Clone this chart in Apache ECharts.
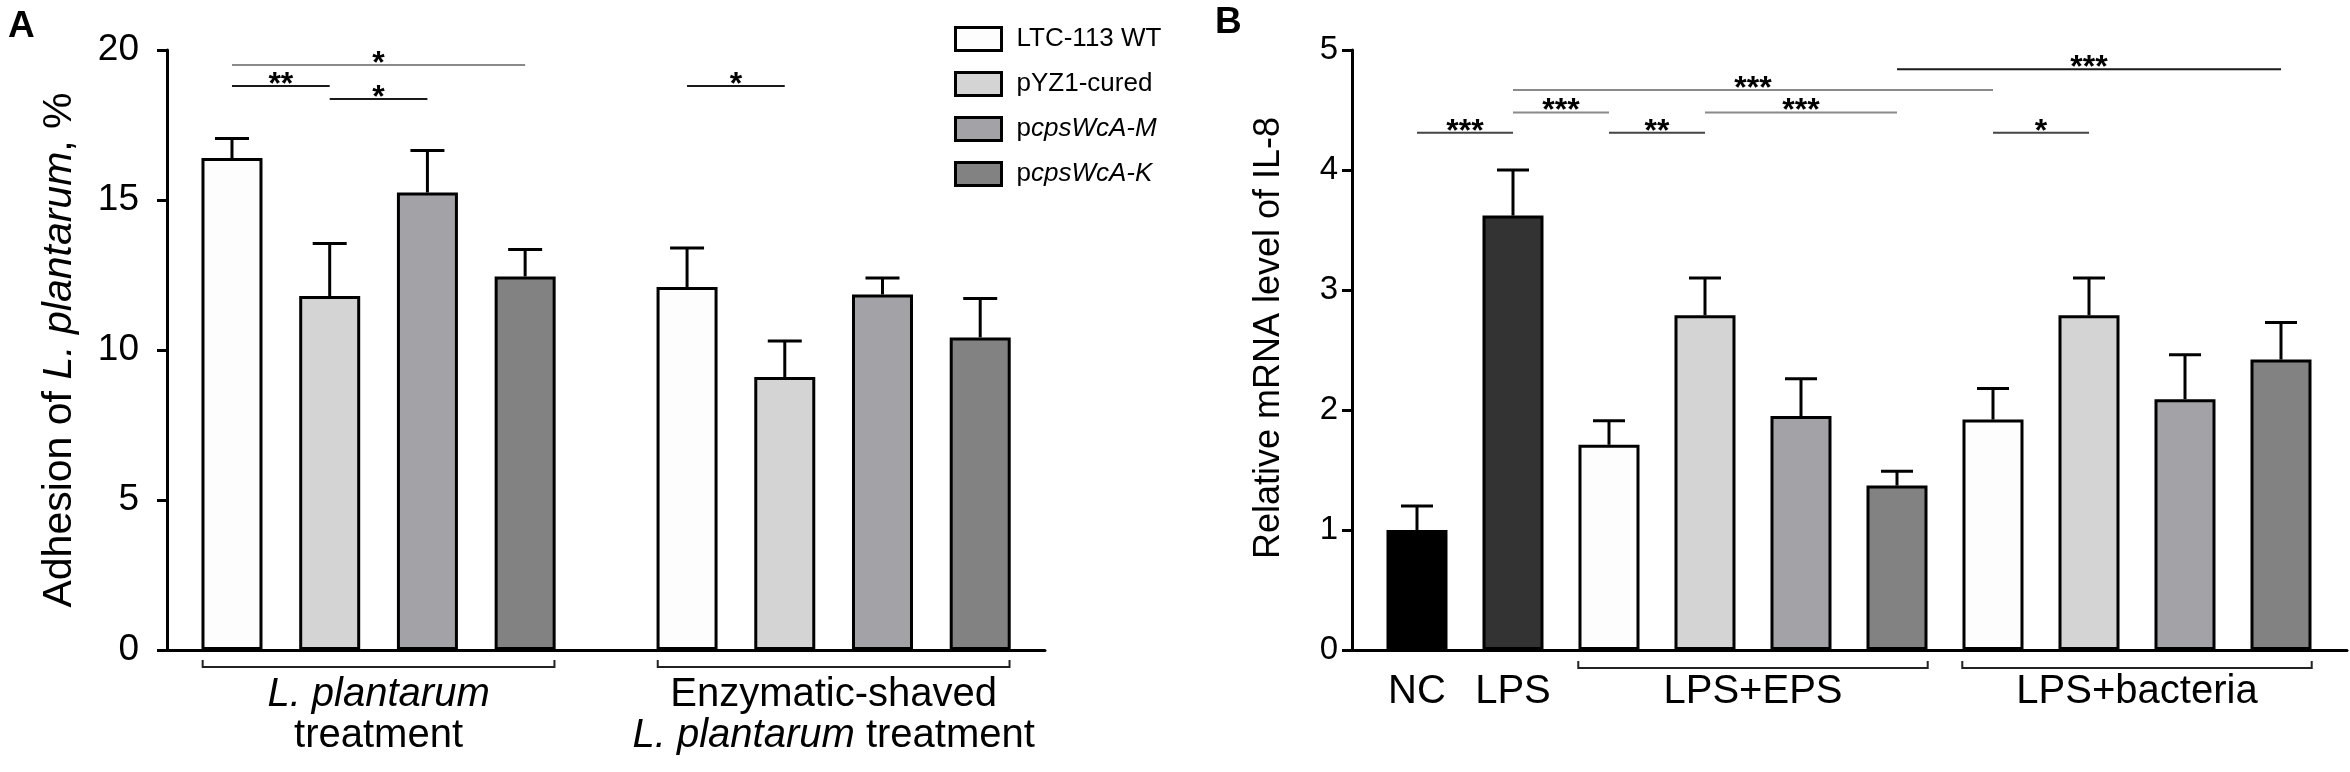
<!DOCTYPE html>
<html>
<head>
<meta charset="utf-8">
<title>Adhesion and IL-8</title>
<script src="https://cdn.jsdelivr.net/npm/echarts@6/dist/echarts.min.js"></script>
<style>
  html, body { margin: 0; padding: 0; background: #fff; }
  #chart { width: 2350px; height: 772px; }
</style>
</head>
<body>
<div id="chart"></div>
<script>
// ---- data ----
var strains = ['LTC-113 WT', 'pYZ1-cured', 'pcpsWcA-M', 'pcpsWcA-K'];

// panel A: adhesion %, [strain][group]
var adhesionGroups = ['{i|L. plantarum}\ntreatment', 'Enzymatic-shaved\n{i|L. plantarum} treatment'];
var adhesionMean = [[16.4, 12.1], [11.8, 9.1], [15.25, 11.85], [12.45, 10.42]];
var adhesionErr = [[0.65, 1.3], [1.75, 1.2], [1.4, 0.55], [0.9, 1.3]];
var adhesionTicks = [0, 20, 5]; // min, max, step
// significance: [bar from, bar to, level, stars], bars numbered group by group
var sigA = [[0, 3, 19.5, 1], [0, 1, 18.8, 2], [1, 2, 18.37, 1], [4, 5, 18.8, 1]];

// panel B: relative IL-8 mRNA
var il8Labels = ['NC', 'LPS', 'LPS+EPS', 'LPS+bacteria'];
var il8Control = [1.0, 3.62];          // NC, LPS
var il8ControlErr = [0.2, 0.38];
var il8Eps = [1.71, 2.79, 1.95, 1.37];  // per strain
var il8EpsErr = [0.2, 0.31, 0.31, 0.12];
var il8Bact = [1.92, 2.79, 2.09, 2.42];
var il8BactErr = [0.26, 0.31, 0.37, 0.31];
var il8Ticks = [0, 5, 1];
var sigB = [[0, 1, 4.31, 3], [1, 2, 4.48, 3], [2, 3, 4.31, 2], [1, 6, 4.667, 3],
            [3, 5, 4.48, 3], [5, 9, 4.84, 3], [6, 7, 4.31, 1]];

// ---- style ----
var FONT = '"Liberation Sans", Arial, Helvetica, sans-serif';
var strainColors = ['#fdfdfd', '#d4d4d4', '#a3a3a7', '#828282'];
var controlColors = ['#000000', '#333333'];
var sigColorsA = ['#8a8a8a', '#1a1a1a', '#1a1a1a', '#1a1a1a'];
var sigColorsB = ['#444', '#8a8a8a', '#444', '#8a8a8a', '#8a8a8a', '#1a1a1a', '#444'];
var GROUP_STEP_A = 4.657;   // distance between the two groups of panel A, in bar slots

function posA(g, s) { return g * GROUP_STEP_A + s; }
function posAByIndex(k) { return posA(Math.floor(k / 4), k % 4); }

function errorBar(capHalf) {
	return function (params, api) {
		var x = api.value(0), m = api.value(1), e = api.value(2);
		var top = api.coord([x, m]);
		var cap = api.coord([x, m + e]);
		var st = { stroke: '#000', lineWidth: 3 };
		return { type: 'group', children: [
			{ type: 'line', shape: { x1: top[0], y1: top[1], x2: cap[0], y2: cap[1] }, style: st },
			{ type: 'line', shape: { x1: cap[0] - capHalf, y1: cap[1], x2: cap[0] + capHalf, y2: cap[1] }, style: st }
		]};
	};
}

function sigRender(colors) {
	return function (params, api) {
		var a = api.coord([api.value(0), api.value(2)]);
		var b = api.coord([api.value(1), api.value(2)]);
		var stars = new Array(api.value(3) + 1).join('*');
		return { type: 'group', children: [
			{ type: 'line', shape: { x1: a[0], y1: a[1], x2: b[0], y2: b[1] },
			  style: { stroke: colors[params.dataIndex], lineWidth: 2 } },
			{ type: 'text', x: (a[0] + b[0]) / 2, y: a[1] - 1,
			  style: { text: stars, align: 'center', verticalAlign: 'middle', fill: '#000',
			           fontFamily: FONT, fontSize: 32, fontWeight: 'bold' } }
		]};
	};
}

function groupRender(labels, o) {
	return function (params, api) {
		var l = api.coord([api.value(0), 0]);
		var r = api.coord([api.value(1), 0]);
		var half = o.halfSpan * api.size([1, 0])[0];
		var x0 = l[0] - half, x1 = r[0] + half, y = l[1] + o.bracketDrop;
		var kids = [];
		if (api.value(1) > api.value(0)) {
			kids.push({ type: 'polyline', shape: { points: [[x0, y - 7], [x0, y], [x1, y], [x1, y - 7]] },
			            style: { stroke: '#222', lineWidth: 2, fill: 'none' } });
		}
		kids.push({ type: 'text', x: (l[0] + r[0]) / 2, y: l[1] + o.textDrop,
			style: { text: labels[params.dataIndex], align: 'center', verticalAlign: o.vAlign, fill: '#000',
			         fontFamily: FONT, fontSize: o.fontSize, lineHeight: o.lineHeight,
			         rich: { i: { fontStyle: 'italic', fontFamily: FONT, fontSize: o.fontSize, lineHeight: o.lineHeight } } } });
		return { type: 'group', children: kids };
	};
}

function valueAxis(grid, ticks, fontSize, margin, name, nameGap, nameSize, namePad) {
	return {
		type: 'value', gridIndex: grid, min: ticks[0], max: ticks[1], interval: ticks[2],
		axisLine: { show: true, onZero: false, lineStyle: { color: '#000', width: 3 } },
		axisTick: { show: true, length: 10, lineStyle: { color: '#000', width: 3 } },
		axisLabel: { color: '#000', fontFamily: FONT, fontSize: fontSize, margin: margin },
		splitLine: { show: false },
		name: name, nameLocation: 'middle', nameGap: nameGap,
		nameTextStyle: { color: '#000', fontFamily: FONT, fontSize: nameSize, padding: namePad,
		                 rich: { i: { fontStyle: 'italic', fontFamily: FONT, fontSize: nameSize } } }
	};
}

function slotAxis(grid, min, max) {
	return {
		type: 'value', gridIndex: grid, min: min, max: max,
		axisLine: { show: true, onZero: false, lineStyle: { color: '#000', width: 3 } },
		axisTick: { show: false }, axisLabel: { show: false }, splitLine: { show: false }
	};
}

var series = [];

// panel A bars + error bars
strains.forEach(function (name, s) {
	series.push({
		type: 'bar', name: name, xAxisIndex: 0, yAxisIndex: 0, barWidth: 61, barGap: '-100%',
		itemStyle: { color: strainColors[s], borderColor: '#000', borderWidth: 3 },
		data: adhesionMean[s].map(function (v, g) { return [posA(g, s), v]; })
	});
});
var errA = [];
strains.forEach(function (name, s) {
	adhesionMean[s].forEach(function (v, g) { errA.push([posA(g, s), v, adhesionErr[s][g]]); });
});
series.push({ type: 'custom', xAxisIndex: 0, yAxisIndex: 0, z: 5, clip: false, silent: true,
	renderItem: errorBar(17), encode: { x: 0, y: 1 }, data: errA });
series.push({ type: 'custom', xAxisIndex: 0, yAxisIndex: 0, z: 5, clip: false, silent: true,
	renderItem: sigRender(sigColorsA), encode: { x: [0, 1], y: 2 },
	data: sigA.map(function (d) { return [posAByIndex(d[0]), posAByIndex(d[1]), d[2], d[3]]; }) });
series.push({ type: 'custom', xAxisIndex: 0, yAxisIndex: 0, z: 5, clip: false, silent: true,
	renderItem: groupRender(adhesionGroups, { halfSpan: 0.3, bracketDrop: 17, textDrop: 24, vAlign: 'top', fontSize: 40, lineHeight: 41 }),
	encode: { x: [0, 1], y: 2 },
	data: adhesionGroups.map(function (t, g) { return [posA(g, 0), posA(g, 3), 0]; }) });

// panel B bars + error bars
['NC', 'LPS'].forEach(function (name, k) {
	series.push({
		type: 'bar', name: name, xAxisIndex: 1, yAxisIndex: 1, barWidth: 61, barGap: '-100%',
		itemStyle: { color: controlColors[k], borderColor: '#000', borderWidth: 3 },
		data: [[k, il8Control[k]]]
	});
});
strains.forEach(function (name, s) {
	series.push({
		type: 'bar', name: name, xAxisIndex: 1, yAxisIndex: 1, barWidth: 61, barGap: '-100%',
		itemStyle: { color: strainColors[s], borderColor: '#000', borderWidth: 3 },
		data: [[2 + s, il8Eps[s]], [6 + s, il8Bact[s]]]
	});
});
var errB = il8Control.map(function (v, k) { return [k, v, il8ControlErr[k]]; });
il8Eps.forEach(function (v, s) { errB.push([2 + s, v, il8EpsErr[s]]); });
il8Bact.forEach(function (v, s) { errB.push([6 + s, v, il8BactErr[s]]); });
series.push({ type: 'custom', xAxisIndex: 1, yAxisIndex: 1, z: 5, clip: false, silent: true,
	renderItem: errorBar(16), encode: { x: 0, y: 1 }, data: errB });
series.push({ type: 'custom', xAxisIndex: 1, yAxisIndex: 1, z: 5, clip: false, silent: true,
	renderItem: sigRender(sigColorsB), encode: { x: [0, 1], y: 2 }, data: sigB });
series.push({ type: 'custom', xAxisIndex: 1, yAxisIndex: 1, z: 5, clip: false, silent: true,
	renderItem: groupRender(il8Labels, { halfSpan: 0.32, bracketDrop: 18, textDrop: 42, vAlign: 'middle', fontSize: 40, lineHeight: 44 }),
	encode: { x: [0, 1], y: 2 },
	data: [[0, 0, 0], [1, 1, 0], [2, 5, 0], [6, 9, 0]] });

var option = {
	backgroundColor: '#fff',
	animation: false,
	grid: [
		{ left: 167, top: 50, width: 878, height: 600 },
		{ left: 1352, top: 50, width: 995, height: 600 }
	],
	xAxis: [slotAxis(0, -0.665, 8.32), slotAxis(1, -0.677, 9.6875)],
	yAxis: [
		valueAxis(0, adhesionTicks, 37, 28, 'Adhesion of {i|L. plantarum}, %', 87, 41, 0),
		valueAxis(1, il8Ticks, 33, 14, 'Relative mRNA level of IL-8', 65, 36, [0, 0, 0, 24])
	],
	legend: {
		data: strains, orient: 'vertical', left: 949, top: 21, icon: 'rect',
		itemWidth: 46, itemHeight: 23, itemGap: 19, selectedMode: false,
		itemStyle: { borderColor: '#000', borderWidth: 3 },
		formatter: function (name) {
			return name.indexOf('pcps') === 0 ? 'p{i|' + name.slice(1) + '}' : name;
		},
		textStyle: { color: '#000', fontFamily: FONT, fontSize: 26, lineHeight: 23, padding: [0, 0, 0, 10],
		             rich: { i: { fontStyle: 'italic', fontFamily: FONT, fontSize: 26, lineHeight: 23 } } }
	},
	graphic: [
		{ type: 'text', left: 8, top: 8, style: { text: 'A', fill: '#000', fontFamily: FONT, fontSize: 37, fontWeight: 'bold' } },
		{ type: 'text', left: 1215, top: 4, style: { text: 'B', fill: '#000', fontFamily: FONT, fontSize: 37, fontWeight: 'bold' } }
	],
	series: series
};

var myChart = echarts.init(document.getElementById('chart'));
myChart.setOption(option);
</script>
</body>
</html>
